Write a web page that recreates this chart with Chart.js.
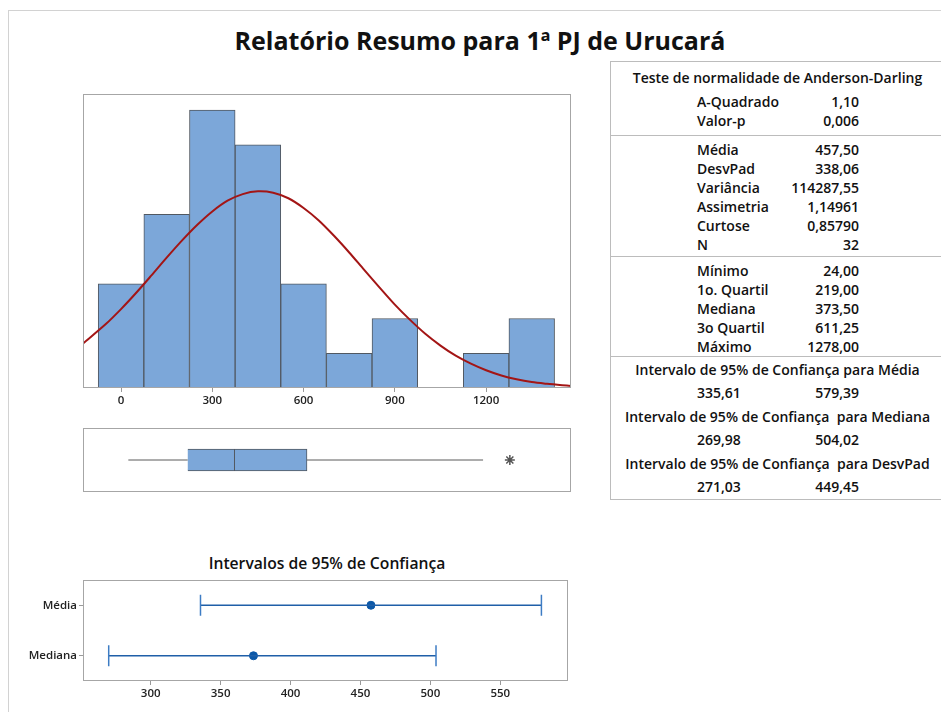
<!DOCTYPE html>
<html>
<head>
<meta charset="utf-8">
<title>Relatório Resumo para 1ª PJ de Urucará</title>
<script src="https://cdn.jsdelivr.net/npm/chart.js@4.4.0/dist/chart.umd.min.js"></script>
<style>
  body { margin: 0; background: #fff; font-family: "Open Sans", sans-serif; color: #111; }
  #page { position: relative; width: 941px; height: 712px; overflow: hidden; }
  #outer { position: absolute; left: 8px; top: 10px; width: 1000px; height: 800px; border-left: 1px solid #d2d2d2; border-top: 1px solid #d2d2d2; }
  #title { position: absolute; left: 0; width: 960px; top: 23px; text-align: center; font-weight: 700; font-size: 25px; line-height: 34px; }
  #cititle { position: absolute; left: 127px; width: 400px; top: 553px; text-align: center; font-weight: 600; font-size: 15.7px; line-height: 20px; }
  canvas { position: absolute; }
  #hist { left: 73px; top: 84px; }
  #box { left: 73px; top: 418px; }
  #ci { left: 20px; top: 568px; }
  #stats { position: absolute; left: 610px; top: 61px; width: 400px; height: 437px; border-left: 1px solid #bcbcbc; border-top: 1px solid #bcbcbc; border-bottom: 1px solid #bcbcbc; font-size: 14px; font-weight: 600; }
  .sep { position: absolute; left: 0; width: 100%; height: 0; border-top: 1px solid #bcbcbc; }
  .head { position: absolute; left: 0; width: 333px; text-align: center; line-height: 19px; white-space: pre; }
  .row { position: absolute; left: 86px; width: 162px; line-height: 19px; display: flex; justify-content: space-between; }
</style>
</head>
<body>
<div id="page">
  <div id="outer"></div>
  <div id="title">Relatório Resumo para 1ª PJ de Urucará</div>
  <canvas id="hist" width="508" height="334"></canvas>
  <canvas id="box" width="508" height="84"></canvas>
  <div id="cititle">Intervalos de 95% de Confiança</div>
  <canvas id="ci" width="560" height="140"></canvas>
  <div id="stats"></div>
</div>
<script>
//Start data
// histogram (bins of width 150)
const binCenters = [0, 150, 300, 450, 600, 750, 900, 1050, 1200, 1350];
const binCounts = [3, 5, 8, 7, 3, 1, 2, 0, 1, 2];
// fitted normal curve
const curveX = [-125, -50, 0, 50, 100, 150, 200, 250, 300, 350, 400, 450, 500, 550, 600, 650, 700, 750, 800, 850, 900, 950, 1000, 1050, 1100, 1150, 1200, 1250, 1300, 1350, 1400, 1450, 1480];
const curveY = [1.28, 1.84, 2.27, 2.74, 3.24, 3.75, 4.24, 4.69, 5.08, 5.39, 5.58, 5.66, 5.62, 5.46, 5.18, 4.82, 4.38, 3.90, 3.39, 2.89, 2.40, 1.96, 1.56, 1.22, 0.93, 0.70, 0.51, 0.36, 0.25, 0.17, 0.12, 0.08, 0.06];
const histTicks = [0, 300, 600, 900, 1200];

// boxplot
const boxLowWhisker = 24;
const boxQ1 = 219;
const boxMedian = 373.5;
const boxQ3 = 611.25;
const boxHighWhisker = 1190;
const boxOutliers = [1278];

// confidence intervals
const ciLabels = ['Média', 'Mediana'];
const ciCenters = [457.5, 373.5];
const ciLower = [335.61, 269.98];
const ciUpper = [579.39, 504.02];
const ciTicks = [300, 350, 400, 450, 500, 550];

// summary table
const adLabels = ['A-Quadrado', 'Valor-p'];
const adValues = ['1,10', '0,006'];
const momentLabels = ['Média', 'DesvPad', 'Variância', 'Assimetria', 'Curtose', 'N'];
const momentValues = ['457,50', '338,06', '114287,55', '1,14961', '0,85790', '32'];
const quantLabels = ['Mínimo', '1o. Quartil', 'Mediana', '3o Quartil', 'Máximo'];
const quantValues = ['24,00', '219,00', '373,50', '611,25', '1278,00'];
const intervalTitles = ['Intervalo de 95% de Confiança para Média', 'Intervalo de 95% de Confiança  para Mediana', 'Intervalo de 95% de Confiança  para DesvPad'];
const intervalLows = ['335,61', '269,98', '271,03'];
const intervalHighs = ['579,39', '504,02', '449,45'];
//End data

const barBlue = '#7ca7d9';
const barEdge = '#515861';
const fontFamily = '"Open Sans", sans-serif';
Chart.defaults.font.family = fontFamily;
Chart.defaults.color = '#222';

// draws the grey box round the plot area
const framePlugin = {
  id: 'frame',
  afterDraw(chart) {
    const a = chart.chartArea;
    const c = chart.ctx;
    c.save();
    c.strokeStyle = '#a6a6a6';
    c.lineWidth = 1;
    c.strokeRect(Math.round(a.left) + 0.5, Math.round(a.top) + 0.5, Math.round(a.right - a.left) - 1, Math.round(a.bottom - a.top) - 1);
    c.restore();
  }
};

const tickFont = { family: fontFamily, size: 11.5, weight: '600' };

//Start histogram
new Chart(document.getElementById('hist'), {
  type: 'bar',
  data: {
    datasets: [{
      type: 'line',
      data: curveX.map((x, i) => ({ x: x, y: curveY[i] })),
      borderColor: '#a31515',
      borderWidth: 2,
      pointRadius: 0,
      tension: 0.3,
      order: 0
    }, {
      type: 'bar',
      data: binCenters.map((x, i) => ({ x: x, y: binCounts[i] })),
      backgroundColor: barBlue,
      borderColor: barEdge,
      borderWidth: 1,
      barPercentage: 1,
      categoryPercentage: 1,
      order: 1
    }]
  },
  options: {
    responsive: false,
    animation: false,
    layout: { padding: { left: 10, right: 10, top: 10, bottom: 6 } },
    plugins: { legend: { display: false }, tooltip: { enabled: false } },
    scales: {
      x: {
        type: 'linear', min: -125, max: 1479, offset: false,
        grid: { drawOnChartArea: false, tickLength: 4, color: '#9a9a9a', offset: false },
        border: { display: false },
        afterBuildTicks: s => { s.ticks = histTicks.map(v => ({ value: v })); },
        afterFit: s => { s.height = 24; },
        ticks: { font: tickFont, padding: 2, maxRotation: 0, callback: v => String(v) }
      },
      y: { display: false, min: 0, max: 8.46 }
    }
  },
  plugins: [framePlugin]
});
//End histogram

//Start boxplot
new Chart(document.getElementById('box'), {
  type: 'bar',
  data: {
    labels: ['box'],
    datasets: [{
      type: 'line',
      data: [{ x: boxLowWhisker, y: 'box' }, { x: boxQ1, y: 'box' }],
      borderColor: '#5a5a5a', borderWidth: 1, pointRadius: 0
    }, {
      type: 'line',
      data: [{ x: boxQ3, y: 'box' }, { x: boxHighWhisker, y: 'box' }],
      borderColor: '#5a5a5a', borderWidth: 1, pointRadius: 0
    }, {
      type: 'scatter',
      data: boxOutliers.map(x => ({ x: x, y: 'box' })),
      pointStyle: 'star', pointRadius: 5, borderColor: '#555', borderWidth: 1.5
    }, {
      data: [[boxQ1, boxMedian]],
      backgroundColor: barBlue, borderColor: barEdge, borderWidth: 1,
      barThickness: 22, grouped: false
    }, {
      data: [[boxMedian, boxQ3]],
      backgroundColor: barBlue, borderColor: barEdge, borderWidth: 1,
      barThickness: 22, grouped: false
    }]
  },
  options: {
    indexAxis: 'y',
    responsive: false,
    animation: false,
    layout: { padding: 10 },
    plugins: { legend: { display: false }, tooltip: { enabled: false } },
    scales: {
      x: { type: 'linear', display: false, min: -125, max: 1479 },
      y: { type: 'category', display: false }
    }
  },
  plugins: [framePlugin]
});
//End boxplot

//Start confidence intervals
const ciSets = ciLabels.map((lab, i) => ({
  data: [{ x: ciLower[i], y: lab }, { x: ciUpper[i], y: lab }],
  borderColor: '#1f5fa8',
  borderWidth: 1.5,
  pointStyle: 'line',
  rotation: 90,
  pointRadius: 10.5,
  pointBorderWidth: 1.5,
  pointBorderColor: '#3d7cc4'
}));
ciSets.push({
  type: 'scatter',
  data: ciLabels.map((lab, i) => ({ x: ciCenters[i], y: lab })),
  pointRadius: 4,
  backgroundColor: '#0b58a8',
  borderColor: '#0b58a8'
});

new Chart(document.getElementById('ci'), {
  type: 'line',
  data: { datasets: ciSets },
  options: {
    responsive: false,
    animation: false,
    layout: { padding: { left: 0, right: 10, top: 10, bottom: 5 } },
    plugins: { legend: { display: false }, tooltip: { enabled: false } },
    scales: {
      x: {
        type: 'linear', min: 251.6, max: 598.4,
        grid: { drawOnChartArea: false, tickLength: 4, color: '#9a9a9a' },
        border: { display: false },
        afterBuildTicks: s => { s.ticks = ciTicks.map(v => ({ value: v })); },
        afterFit: s => { s.height = 22; },
        ticks: { font: tickFont, padding: 2, maxRotation: 0, callback: v => String(v) }
      },
      y: {
        type: 'category', labels: ciLabels, offset: true,
        grid: { drawOnChartArea: false, tickLength: 4, color: '#9a9a9a', offset: false },
        border: { display: false },
        afterFit: s => { s.width = 63; },
        ticks: { font: tickFont, padding: 2 }
      }
    }
  },
  plugins: [framePlugin]
});
//End confidence intervals

//Start summary table
const stats = document.getElementById('stats');
let html = '';
function head(text, center) {
  html += '<div class="head" style="top:' + (center - 10) + 'px">' + text + '</div>';
}
function rows(labels, values, start, step) {
  labels.forEach((lab, i) => {
    html += '<div class="row" style="top:' + Math.round(start + i * step - 10) + 'px"><span>' + lab + '</span><span>' + values[i] + '</span></div>';
  });
}
function sep(y) {
  html += '<div class="sep" style="top:' + y + 'px"></div>';
}
head('Teste de normalidade de Anderson-Darling', 16);
rows(adLabels, adValues, 40, 19);
sep(73);
rows(momentLabels, momentValues, 88, 18.9);
sep(194);
rows(quantLabels, quantValues, 209, 18.9);
sep(294);
intervalTitles.forEach((t, i) => {
  head(t, 308 + i * 47);
  rows([intervalLows[i]], [intervalHighs[i]], 331 + i * 47, 0);
});
stats.innerHTML = html;
//End summary table
</script>
</body>
</html>
